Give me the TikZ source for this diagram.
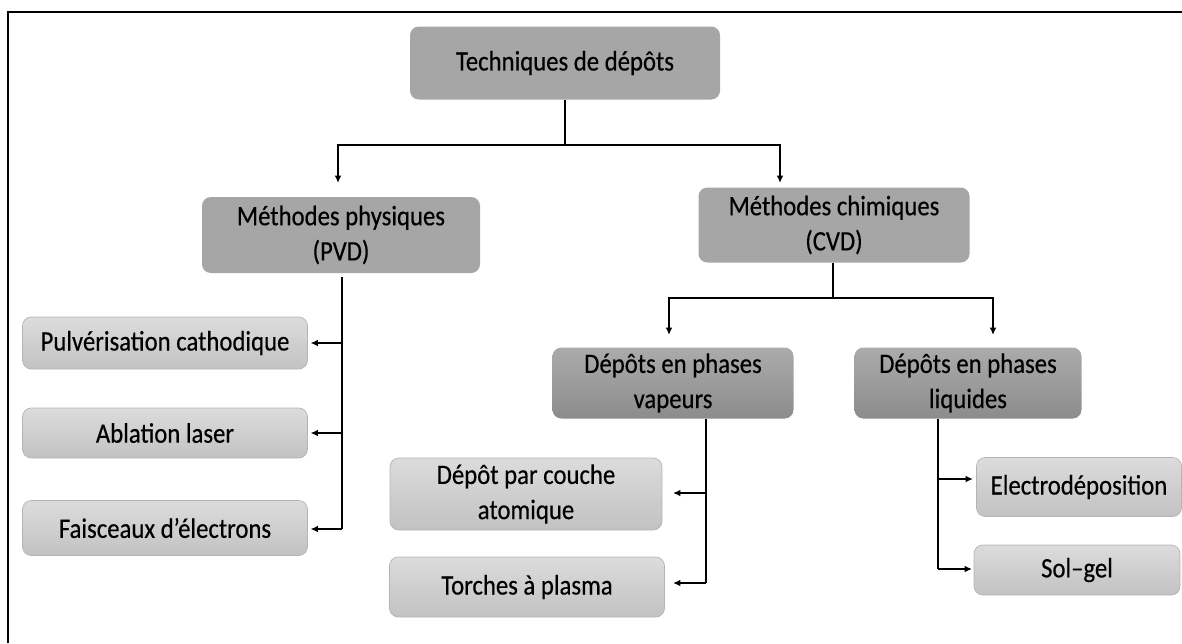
\documentclass[tikz,border=0pt]{standalone}
\usepackage{fontspec}
\setmainfont[FakeStretch=0.88,FakeBold=0.4]{Carlito}
\usetikzlibrary{arrows,arrows.meta,shapes}
\usetikzlibrary{positioning}
\usetikzlibrary{calc}
\definecolor{boxgray}{HTML}{A6A6A6}
\definecolor{midtop}{HTML}{ABABAB}
\definecolor{midbot}{HTML}{8C8C8C}
\definecolor{leaftop}{HTML}{DCDCDC}
\definecolor{leafbot}{HTML}{C2C2C2}
\definecolor{leafline}{HTML}{B4B4B4}
\newcommand\pxu{0.02cm}
\tikzset{
	% each box is placed at the pixel centre of the reference
    mainbox/.style={rounded corners=5pt, fill=boxgray, draw=none,
        align=center, inner sep=0pt, font=\fontsize{16}{20}\selectfont},
    phasebox/.style={rounded corners=5pt, top color=midtop, bottom color=midbot,
        draw=none, align=center, inner sep=0pt, font=\fontsize{16}{20}\selectfont},
    leafbox/.style={rounded corners=5pt, top color=leaftop, bottom color=leafbot,
        draw=leafline, line width=.4pt, align=center, inner sep=0pt,
        font=\fontsize{16}{20}\selectfont},
    link/.style={draw=black, line width=1.1pt},
    arrowlink/.style={draw=black, line width=1.1pt, -{Latex[length=4.2pt,width=3.8pt]}},
}

\begin{document}
\begin{tikzpicture}[x=\pxu, y=-\pxu]
	\useasboundingbox (0,0) rectangle (1182,643);
	\draw[line width=1.7pt] (8,643) -- (8,12) -- (1182,12);

	% top
	\node[mainbox, minimum width=310*\pxu, minimum height=73*\pxu] (tech) at (565,63) {Techniques de dépôts};
	\node[mainbox, minimum width=278*\pxu, minimum height=76*\pxu] (phys) at (341,235) {Méthodes physiques\\(PVD)};
	\node[mainbox, minimum width=271*\pxu, minimum height=75*\pxu] (chim) at (834,225) {Méthodes chimiques\\(CVD)};
		\coordinate (t0) at (565,145);
		\coordinate (tp) at (338,183);
		\coordinate (tc) at (780,183);
		\draw[link] (tech.south -| t0) -- (t0);
		\draw[arrowlink] (t0) -| (tp);
		\draw[arrowlink] (t0) -| (tc);

	% physical methods
	\node[leafbox, minimum width=285*\pxu, minimum height=52*\pxu] (pulv) at (165,343) {Pulvérisation cathodique};
	\node[leafbox, minimum width=285*\pxu, minimum height=50*\pxu] (abla) at (165,433) {Ablation laser};
	\node[leafbox, minimum width=285*\pxu, minimum height=55*\pxu] (fais) at (165,528) {Faisceaux d’électrons};
		\coordinate (p0) at (342,277);
		\coordinate (p1) at (342,529);
		\draw[link] (p0) -- (p1);
		\draw[arrowlink] (p0 |- pulv) -- ([xshift=1.5pt]pulv.east);
		\draw[arrowlink] (p0 |- abla) -- ([xshift=1.5pt]abla.east);
		\draw[arrowlink] (p1) -- ([xshift=1.5pt]fais.east |- p1);

	% chemical methods
	\node[phasebox, minimum width=241*\pxu, minimum height=71*\pxu] (vap) at (673,383) {Dépôts en phases\\vapeurs};
	\node[phasebox, minimum width=227*\pxu, minimum height=71*\pxu] (liq) at (968,383) {Dépôts en phases\\liquides};
		\coordinate (c0) at (833,298);
		\coordinate (cv) at (669,335);
		\coordinate (cl) at (993,335);
		\draw[link] (chim.south -| c0) -- (c0);
		\draw[arrowlink] (c0) -| (cv);
		\draw[arrowlink] (c0) -| (cl);

	\node[leafbox, minimum width=272*\pxu, minimum height=72*\pxu] (atom) at (526,494) {Dépôt par couche\\atomique};
	\node[leafbox, minimum width=275*\pxu, minimum height=60*\pxu] (torch) at (527,587) {Torches à plasma};
		\coordinate (v0) at (706,419);
		\coordinate (v1) at (706,583);
		\coordinate (va) at (673,493);
		\coordinate (vt) at (673,583);
		\draw[link] (vap.south -| v0) -- (v1);
		\draw[arrowlink] (v0 |- va) -- (va);
		\draw[arrowlink] (v1) -- (vt);

	\node[leafbox, minimum width=205*\pxu, minimum height=59*\pxu] (elec) at (1079,487) {Electrodéposition};
	\node[leafbox, minimum width=206*\pxu, minimum height=50*\pxu] (sol) at (1077,570) {Sol–gel};
		\coordinate (l0) at (938,419);
		\coordinate (l1) at (938,569);
		\coordinate (le) at (973,479);
		\coordinate (ls) at (972,569);
		\draw[link] (liq.south -| l0) -- (l1);
		\draw[arrowlink] (l0 |- le) -- (le);
		\draw[arrowlink] (l1) -- (ls);
\end{tikzpicture}
\end{document}
